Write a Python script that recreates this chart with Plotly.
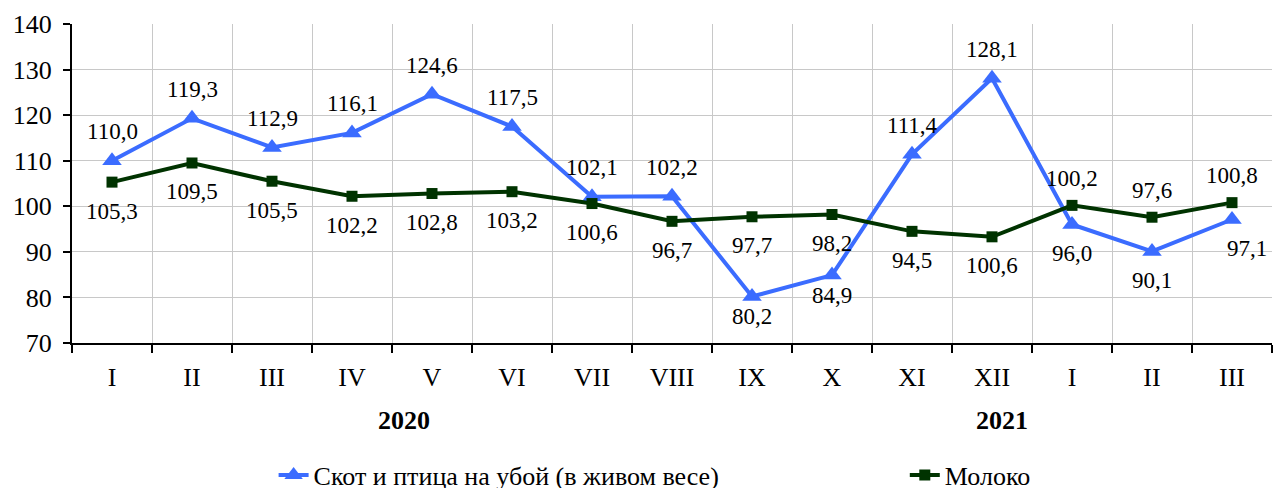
import plotly.graph_objects as go

months = ["I", "II", "III", "IV", "V", "VI", "VII", "VIII", "IX", "X", "XI", "XII", "I", "II", "III"]
years = ["2020", "2021"]
livestock = [110.0, 119.3, 112.9, 116.1, 124.6, 117.5, 102.1, 102.2, 80.2, 84.9, 111.4, 128.1, 96.0, 90.1, 97.1]
milk = [105.3, 109.5, 105.5, 102.2, 102.8, 103.2, 100.6, 96.7, 97.7, 98.2, 94.5, 93.3, 100.2, 97.6, 100.8]
milk_labels = ["105,3", "109,5", "105,5", "102,2", "102,8", "103,2", "100,6", "96,7", "97,7", "98,2", "94,5", "100,6", "100,2", "97,6", "100,8"]
livestock_labels = [f"{v:.1f}".replace(".", ",") for v in livestock]
livestock_side = ["up"] * 8 + ["down", "down", "up", "up", "down", "down", "down"]
milk_side = ["down"] * 12 + ["up", "up", "up"]

BLUE = "#3b6cff"
GREEN = "#003300"
FONT = "Liberation Serif, Times New Roman, serif"

x = list(range(len(months)))

fig = go.Figure()
fig.add_trace(go.Scatter(
    x=x, y=livestock, mode="lines+markers", name="Скот и птица на убой (в живом весе)",
    line=dict(color=BLUE, width=4),
    marker=dict(symbol="triangle-up", size=17, color=BLUE),
    legend="legend",
))
fig.add_trace(go.Scatter(
    x=x, y=milk, mode="lines+markers", name="Молоко",
    line=dict(color=GREEN, width=4),
    marker=dict(symbol="square", size=11, color=GREEN),
    legend="legend2",
))

LABEL_SIZE = 23
annotations = []
for i, (v, t, s) in enumerate(zip(livestock, livestock_labels, livestock_side)):
    shift = 29 if s == "up" else -29
    if i in (8, 9):
        shift = -20
    xs = 15 if i == 14 else 0
    annotations.append(dict(x=i, y=v, text=t, showarrow=False, yshift=shift, xshift=xs,
                            font=dict(family=FONT, size=LABEL_SIZE, color="black")))
for i, (v, t, s) in enumerate(zip(milk, milk_labels, milk_side)):
    shift = 27 if s == "up" else -29
    annotations.append(dict(x=i, y=v, text=t, showarrow=False, yshift=shift,
                            font=dict(family=FONT, size=LABEL_SIZE, color="black")))

annotations.append(dict(x=3.65, y=0, xref="x", yref="paper", text="<b>2020</b>", showarrow=False,
                        yanchor="middle", yshift=-77, font=dict(family=FONT, size=26, color="black")))
annotations.append(dict(x=11.13, y=0, xref="x", yref="paper", text="<b>2021</b>", showarrow=False,
                        yanchor="middle", yshift=-77, font=dict(family=FONT, size=26, color="black")))

legend_common = dict(orientation="h", xanchor="left", y=-0.414, yanchor="middle",
                     font=dict(family=FONT, size=26, color="black"), bgcolor="rgba(0,0,0,0)")

fig.update_layout(
    width=1279, height=488,
    margin=dict(l=72, r=7, t=24, b=145, autoexpand=False),
    paper_bgcolor="white", plot_bgcolor="white",
    font=dict(family=FONT, size=22, color="black"),
    showlegend=True,
    legend=dict(x=0.168, **legend_common),
    legend2=dict(x=0.694, **legend_common),
    annotations=annotations,
)
fig.update_xaxes(
    range=[-0.5, 14.5], tickvals=x, ticktext=months, showgrid=False, ticks="",
    showline=True, linecolor="black", linewidth=2, zeroline=False,
    tickfont=dict(family=FONT, size=26, color="black"), ticklabelstandoff=10,
    minor=dict(tick0=-0.5, dtick=1, showgrid=True, gridcolor="#c8c8c8", gridwidth=1,
               ticks="outside", ticklen=8, tickcolor="black", tickwidth=2),
)
fig.update_yaxes(
    range=[70, 140], dtick=10, showgrid=True, gridcolor="#c8c8c8", gridwidth=1,
    ticks="outside", ticklen=7, tickcolor="black", tickwidth=2,
    showline=True, linecolor="black", linewidth=2, zeroline=False,
    tickfont=dict(family=FONT, size=26, color="black"), ticklabelstandoff=6,
)

fig.write_html("out.html", config={"displayModeBar": False},
               post_script="document.body.style.margin='0';")
